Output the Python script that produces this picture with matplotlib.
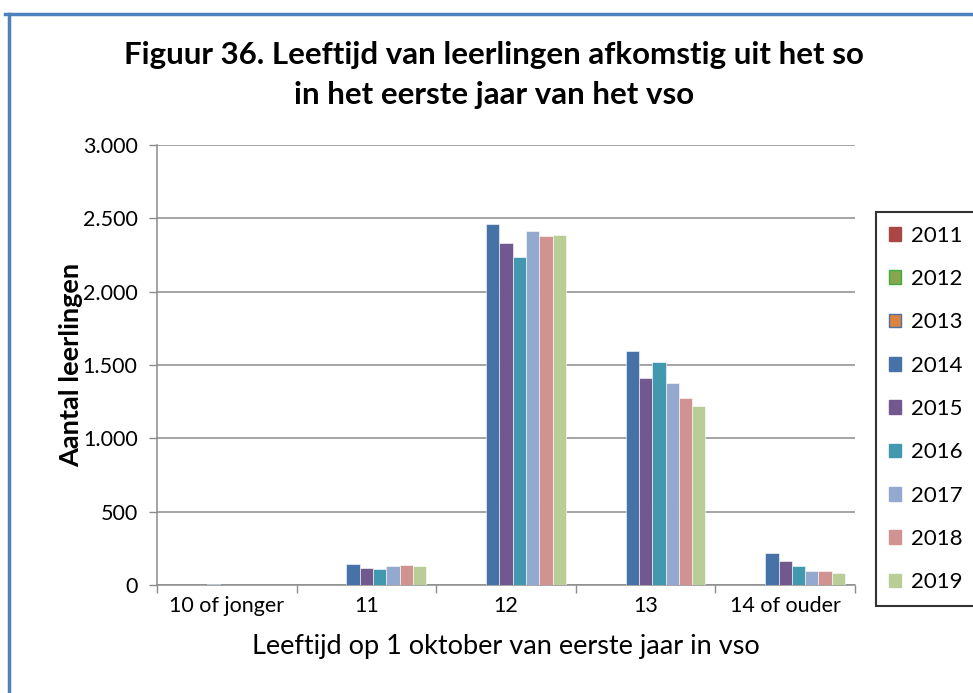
import numpy as np
import matplotlib
matplotlib.use("Agg")
import matplotlib.pyplot as plt
from matplotlib.lines import Line2D
from matplotlib.patches import Patch

plt.rcParams['font.family'] = ['Lato', 'DejaVu Sans']

categories = ['10 of jonger', '11', '12', '13', '14 of ouder']
years = ['2011', '2012', '2013', '2014', '2015', '2016', '2017', '2018', '2019']

v2011 = [0, 0, 0, 0, 0]
v2012 = [0, 0, 0, 0, 0]
v2013 = [0, 0, 0, 0, 0]
v2014 = [10, 143, 2460, 1595, 215]
v2015 = [0, 113, 2330, 1414, 161]
v2016 = [0, 111, 2233, 1523, 127]
v2017 = [0, 127, 2415, 1375, 95]
v2018 = [0, 136, 2378, 1273, 95]
v2019 = [0, 127, 2385, 1223, 79]
values = [v2011, v2012, v2013, v2014, v2015, v2016, v2017, v2018, v2019]

colors = ['#AA4643', '#89A54E', '#DB843D', '#4672A8', '#71588F',
          '#4198AF', '#93A9CF', '#D09392', '#B9CD96']
legend_edges = ['#AA4643', '#3FAF3F', '#4F6FA8', '#4672A8', '#71588F',
                '#4198AF', '#93A9CF', '#D09392', '#B9CD96']

fig = plt.figure(figsize=(9.73, 6.93), dpi=100)
ax = fig.add_axes([157 / 973, 1 - 585 / 693, (855 - 157) / 973, (585 - 145) / 693])

n = len(years)
width = 1 / (n + 1.5)
x = np.arange(len(categories))
for i, (yr, vals) in enumerate(zip(years, values)):
    offs = (i - (n - 1) / 2) * width
    ax.bar(x + offs, vals, width, color=colors[i], edgecolor='white',
           linewidth=0.4 if any(vals) else 0, zorder=3)

ax.set_xlim(-0.5, len(categories) - 0.5)
ax.set_ylim(0, 3000)
ax.set_yticks(np.arange(0, 3001, 500))
ax.set_yticklabels(['0', '500', '1.000', '1.500', '2.000', '2.500', '3.000'])
ax.yaxis.grid(True, color='#8C8C8C', linewidth=1.1, zorder=0)
ax.set_axisbelow(True)

ax.set_xticks(np.arange(-0.5, len(categories) + 0.5, 1))
ax.set_xticklabels([])
ax.set_xticks(x, minor=True)
ax.set_xticklabels(categories, minor=True)
ax.tick_params(axis='x', which='minor', length=0, pad=8, labelsize=15.5)
ax.tick_params(axis='x', which='major', length=6, color='#8C8C8C', width=1)
ax.tick_params(axis='y', length=6, color='#8C8C8C', width=1, labelsize=15.5, pad=8)

for side in ['top', 'right']:
    ax.spines[side].set_visible(False)
for side in ['left', 'bottom']:
    ax.spines[side].set_color('#8C8C8C')
    ax.spines[side].set_linewidth(1.1)

ax.set_ylabel('Aantal leerlingen', fontsize=19.5, fontweight='bold', labelpad=0)
ax.set_xlabel('Leeftijd op 1 oktober van eerste jaar in vso', fontsize=19.5, labelpad=13)

fig.text(0.508, 1 - 75 / 693, 'Figuur 36. Leeftijd van leerlingen afkomstig uit het so\n'
         'in het eerste jaar van het vso', ha='center', va='center',
         fontsize=22.5, fontweight='bold', linespacing=1.5)

handles = [Patch(facecolor=colors[i], edgecolor=legend_edges[i], linewidth=1)
           for i in range(n)]
leg = fig.legend(handles, years, loc='center', bbox_to_anchor=(926 / 973, 1 - 409 / 693),
                 fontsize=16, frameon=True, fancybox=False, labelspacing=1.05,
                 handlelength=0.55, handleheight=0.55, handletextpad=0.45,
                 borderpad=0.6, borderaxespad=0)
leg.get_frame().set_edgecolor('black')
leg.get_frame().set_linewidth(1.5)

# chart area frame (top and left edges)
fig.add_artist(Line2D([5 / 973, 1], [1 - 14 / 693, 1 - 14 / 693], color='#4F81BD', linewidth=2.5))
fig.add_artist(Line2D([9 / 973, 9 / 973], [0, 1 - 14 / 693], color='#4F81BD', linewidth=2.5))

fig.savefig('out.png', dpi=100)
